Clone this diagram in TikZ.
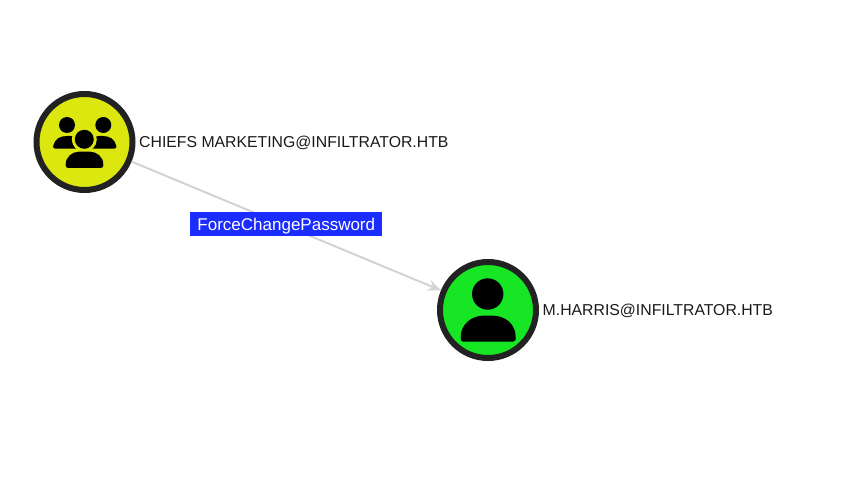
\documentclass[tikz,border=0pt]{standalone}
\usepackage{fontspec}
\usepackage{xcolor}
\usetikzlibrary{arrows.meta}
\setmainfont{Liberation Sans}
\definecolor{ring}{HTML}{222222}
\definecolor{grp}{HTML}{DCE60F}
\definecolor{usr}{HTML}{17E625}
\definecolor{edgeline}{HTML}{D3D3D3}
\definecolor{tag}{HTML}{1A2CFF}
\tikzset{
  entity/.style={circle,draw=ring,line width=6pt,minimum size=96pt,inner sep=0pt},
  entitytext/.style={anchor=west,inner sep=0pt,text=black!90,font=\fontsize{15.8}{18}\selectfont},
  edgetag/.style={fill=tag,text=white,minimum width=192pt,minimum height=24pt,inner sep=0pt,text height=14pt,text depth=2pt,font=\fontsize{17}{19}\selectfont}
}
\begin{document}
\begin{tikzpicture}[x=1pt,y=-1pt]
\useasboundingbox (0,0) rectangle (847,484);
\node[entity,fill=grp] (chiefs) at (84.5,142) {};
\node[entity,fill=usr] (harris) at (488,310) {};
\draw[edgeline,line width=2pt,-{Stealth[length=13pt,width=11pt]}] (chiefs) -- (harris);
\node[edgetag] (force) at (286.3,224) {ForceChangePassword};
\node[entitytext] (chiefstext) at (139,143) {CHIEFS MARKETING@INFILTRATOR.HTB};
\node[entitytext] (harristext) at (542.5,311) {M.HARRIS@INFILTRATOR.HTB};

% group icon
\fill (67,125) circle (8);
\fill (103.3,125) circle (8);
\fill (55,148.7) .. controls (52.5,148.7) and (53,146) .. (53.5,145) .. controls (55,139) and (60,136) .. (67,136) -- (70,136) .. controls (76,136) and (80,139) .. (82,148.7) -- cycle;
\fill (114.5,148.7) .. controls (117,148.7) and (116.5,146) .. (116,145) .. controls (114.5,139) and (109.5,136) .. (102.5,136) -- (99.5,136) .. controls (93.5,136) and (89.5,139) .. (87.5,148.7) -- cycle;
\fill[grp] (84.3,139.3) circle (12.5);
\fill (84.3,139.3) circle (9.5);
\fill (68,168) .. controls (65.5,168) and (65.7,166) .. (65.7,164.5) .. controls (65.7,157) and (72,151.7) .. (79,151.7) -- (90,151.7) .. controls (97,151.7) and (103.3,157) .. (103.3,164.5) .. controls (103.3,166) and (103.5,168) .. (101,168) -- cycle;

% user icon
\fill (487.7,294) circle (15.7);
\fill (463,341.7) .. controls (460.5,341.7) and (460.7,339) .. (460.7,337) .. controls (460.7,324) and (472,315.7) .. (483,315.7) -- (493,315.7) .. controls (505,315.7) and (515.7,324) .. (515.7,337) .. controls (515.7,339) and (516,341.7) .. (513,341.7) -- cycle;
\end{tikzpicture}
\end{document}
